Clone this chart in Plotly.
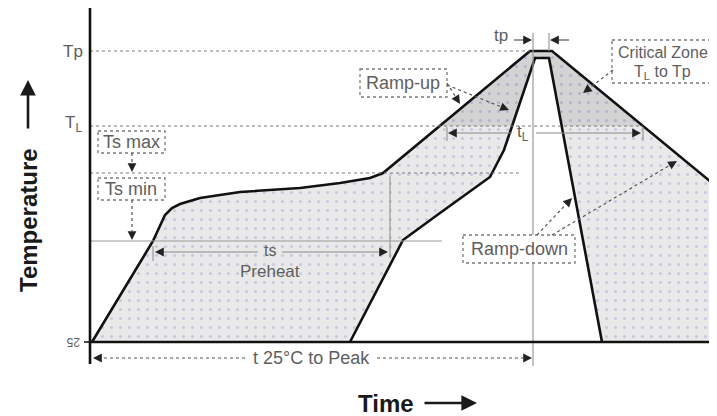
import plotly.graph_objects as go

# ---------------- data (schematic reflow profile) ----------------
# time measured from the start of the profile, temperature measured above the 25 °C baseline
outer_time = [0, 61, 73, 80, 88, 108, 148, 208, 248, 278, 291, 438, 460, 625]
outer_temp = [0, 101, 127, 134, 138, 144, 150, 154, 159, 164, 169, 291, 291, 155]
inner_time = [258, 311, 348, 398, 412, 443, 457, 510]
inner_temp = [0, 102, 129, 165, 192, 284, 284, 0]

level_names = ["Tp", "TL", "Ts max", "Ts min"]
level_values = [291, 216, 169, 101]
TP, TL, TSMAX, TSMIN = level_values

# ---------------- helpers: page pixel -> data ----------------
PAGE_OFF = 8  # default body margin of the html page
X0, Y0 = 92, 342
def X(px):
    return px - X0
def Y(py):
    return Y0 - py

def cross(ts, vs, level, first=True):
    pts = list(zip(ts, vs))
    segs = list(zip(pts[:-1], pts[1:]))
    if not first:
        segs = segs[::-1]
    for (t0, v0), (t1, v1) in segs:
        if (v0 - level) * (v1 - level) <= 0 and v0 != v1:
            return t0 + (level - v0) / (v1 - v0) * (t1 - t0)
    return None

fig = go.Figure()

# main shaded area between outer and inner profiles
poly_t = outer_time + [outer_time[-1]] + inner_time[::-1] + [outer_time[0]]
poly_v = outer_temp + [0] + inner_temp[::-1] + [outer_temp[0]]
fig.add_trace(go.Scatter(
    x=poly_t, y=poly_v, mode="lines", fill="toself", line=dict(width=0),
    fillcolor="#e8e8e8",
    fillpattern=dict(shape=".", bgcolor="#e9e9e9", fgcolor="#a8a8dc", size=9, solidity=0.1),
    hoverinfo="skip", showlegend=False))

# critical zone (TL to Tp)
ol = cross(outer_time, outer_temp, TL, True)
orr = cross(outer_time, outer_temp, TL, False)
il = cross(inner_time, inner_temp, TL, True)
ir = cross(inner_time, inner_temp, TL, False)
cz_t = [ol] + [t for t, v in zip(outer_time, outer_temp) if v > TL] + [orr, ir] + \
       [t for t, v in zip(inner_time, inner_temp) if v > TL][::-1] + [il, ol]
cz_v = [TL] + [v for v in outer_temp if v > TL] + [TL, TL] + \
       [v for v in inner_temp if v > TL][::-1] + [TL, TL]
fig.add_trace(go.Scatter(
    x=cz_t, y=cz_v, mode="lines", fill="toself", line=dict(width=0),
    fillcolor="#d2d2d2",
    fillpattern=dict(shape=".", bgcolor="#d3d3d3", fgcolor="#9494cc", size=9, solidity=0.1),
    hoverinfo="skip", showlegend=False))

# profile lines
for ts, vs in [(outer_time, outer_temp), (inner_time, inner_temp)]:
    fig.add_trace(go.Scatter(x=ts, y=vs, mode="lines",
                             line=dict(color="#111111", width=2.6),
                             hoverinfo="skip", showlegend=False))

shapes = []
anns = []
GREY = "#7a7a7a"
TXT = "#5e5e5e"

def line(x0, y0, x1, y1, color=GREY, width=1.2, dash="dot"):
    shapes.append(dict(type="line", x0=X(x0), y0=Y(y0), x1=X(x1), y1=Y(y1),
                       line=dict(color=color, width=width, dash=dash), layer="above"))

def rect(x0, y0, x1, y1):
    shapes.append(dict(type="rect", x0=X(x0), y0=Y(y0), x1=X(x1), y1=Y(y1),
                       line=dict(color=GREY, width=1.3, dash="dot"), fillcolor="white", layer="above"))

def arrow(x0, y0, x1, y1, dash="dot", color="#555555", head=9):
    dx, dy = x1 - x0, y1 - y0
    L = (dx * dx + dy * dy) ** 0.5
    hx, hy = x1 - dx / L * head, y1 - dy / L * head
    line(x0, y0, hx, hy, color=color, width=1.2, dash=dash)
    anns.append(dict(x=X(x1), y=Y(y1), ax=X(hx), ay=Y(hy), axref="x", ayref="y",
                     xref="x", yref="y", showarrow=True, arrowhead=2, arrowsize=1.1,
                     arrowwidth=1.6, arrowcolor="#222222", text="", standoff=0))

def text(x, y, s, size=18, color=TXT, angle=0, bold=False, xanchor="center"):
    anns.append(dict(x=X(x), y=Y(y), text=("<b>%s</b>" % s) if bold else s, showarrow=False,
                     xref="x", yref="y", textangle=angle, xanchor=xanchor, yanchor="middle",
                     font=dict(family="Liberation Sans, Arial", size=size, color=color)))

# reference level lines
line(90, Y0 - TP, 530, Y0 - TP)
line(90, Y0 - TL, 643, Y0 - TL)
line(90, Y0 - TSMAX, 522, Y0 - TSMAX)
line(90, Y0 - TSMIN, 442, Y0 - TSMIN, color="#9a9a9a", width=1.2, dash="solid")

# vertical guides
line(533, 33, 533, 366, color="#9a9a9a", width=1.2, dash="solid")
line(549, 33, 549, 51, color="#9a9a9a", width=1.2, dash="solid")
line(390, 176, 390, 258, color="#9a9a9a", width=1.2, dash="solid")
line(153, 246, 153, 261, color="#9a9a9a", width=1.2, dash="solid")
line(447, 127, 447, 141, color="#9a9a9a", width=1.2, dash="solid")
line(643, 127, 643, 141, color="#9a9a9a", width=1.2, dash="solid")

# axes
line(90, 7, 90, 364, color="#111111", width=2.6, dash="solid")
line(89, 342, 717, 342, color="#111111", width=2.4, dash="solid")
line(84, 342, 90, 342, color="#111111", width=1.5, dash="solid")

# boxes
rect(98, 131, 165, 153)
rect(98, 178, 165, 200)
rect(360, 69, 447, 97)
rect(612, 40, 730, 83)
rect(463, 235, 575, 263)

# arrows
arrow(132, 153, 132, 172)
arrow(132, 200, 132, 240)
arrow(258, 252, 155, 252, dash="solid", color="#8a8a8a")
arrow(282, 252, 388, 252, dash="solid", color="#8a8a8a")
arrow(512, 133, 448, 133, dash="solid", color="#8a8a8a")
arrow(536, 133, 641, 133, dash="solid", color="#8a8a8a")
arrow(514, 40, 532, 40, dash="solid", color="#555555", head=8)
arrow(569, 40, 550, 40, dash="solid", color="#555555", head=8)
arrow(245, 358, 93, 358)
arrow(377, 358, 532, 358)
arrow(447, 83, 460, 104)
arrow(447, 85, 509, 110)
arrow(613, 70, 583, 93)
arrow(537, 235, 572, 198)
arrow(552, 235, 677, 161)

# labels
text(73, 51, "Tp", size=17)
text(73, 124, "T<sub>L</sub>", size=17)
text(73, 342, "25", size=12, angle=180)
text(131, 142, "Ts max")
text(131, 189, "Ts min")
text(403, 83, "Ramp-up")
text(663, 52, "Critical Zone", size=16)
text(662, 72, "T<sub>L</sub> to Tp", size=16)
text(519, 249, "Ramp-down")
text(501, 35, "tp", size=17)
text(523, 133, "t<sub>L</sub>", size=17)
text(270, 250, "ts", size=16)
text(270, 271, "Preheat", size=17)
text(311, 358, "t 25°C to Peak")

# axis titles with arrows
text(386, 403, "Time", size=24, color="#1a1a1a", bold=True)
anns.append(dict(x=X(477), y=Y(403), ax=X(423), ay=Y(403), axref="x", ayref="y",
                 xref="x", yref="y", showarrow=True, arrowhead=2, arrowsize=1.2,
                 arrowwidth=2.6, arrowcolor="#1a1a1a", text="", standoff=0))
text(28, 220, "Temperature", size=24, color="#1a1a1a", bold=True, angle=-90)
anns.append(dict(x=X(28), y=Y(80), ax=X(28), ay=Y(130), axref="x", ayref="y",
                 xref="x", yref="y", showarrow=True, arrowhead=2, arrowsize=1.2,
                 arrowwidth=2.6, arrowcolor="#1a1a1a", text="", standoff=0))

fig.update_layout(
    width=717 - PAGE_OFF, height=416 - PAGE_OFF, margin=dict(l=0, r=0, t=0, b=0),
    paper_bgcolor="white", plot_bgcolor="white",
    xaxis=dict(range=[X(PAGE_OFF), X(717)], visible=False, fixedrange=True),
    yaxis=dict(range=[Y(416), Y(PAGE_OFF)], visible=False, fixedrange=True),
    shapes=shapes, annotations=anns, showlegend=False,
)
fig.write_html("out.html")
